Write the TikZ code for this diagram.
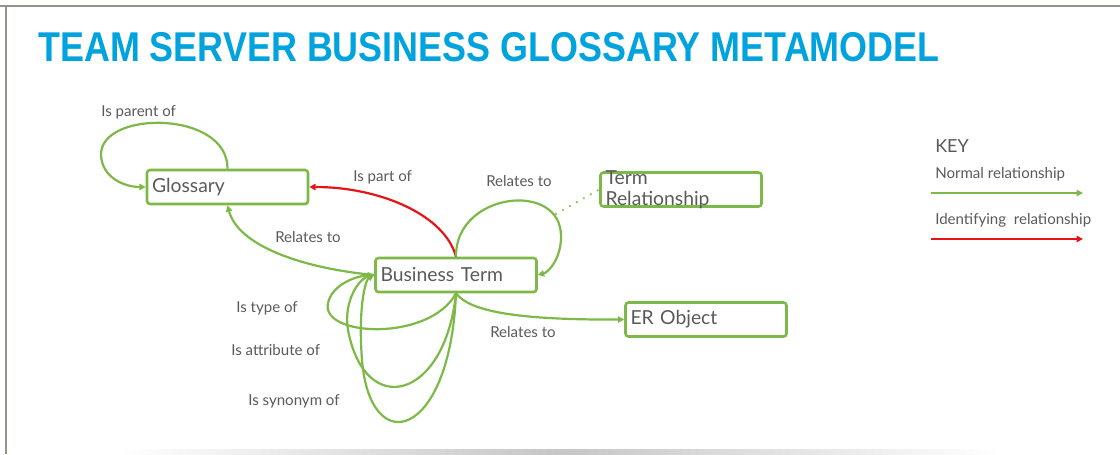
\documentclass[tikz,border=0pt]{standalone}
\usepackage{fontspec}
\setmainfont{Lato}
\newfontfamily\titlefont{Liberation Sans}
\usetikzlibrary{arrows.meta,shadows}
\definecolor{ttlblue}{RGB}{0,163,221}
\definecolor{lgreen}{RGB}{125,185,70}
\definecolor{lred}{RGB}{230,20,25}
\definecolor{txtgray}{RGB}{90,90,90}
\definecolor{framegray}{RGB}{150,146,136}
\tikzset{
  entity/.style={draw=lgreen, line width=1.9pt, rounded corners=2.25pt, fill=white,
    minimum width=120.75pt, minimum height=25.5pt, text width=113.25pt, align=left,
    inner xsep=3.75pt, font=\fontsize{14.5pt}{17pt}\selectfont, text=txtgray,
    drop shadow={shadow xshift=0.8pt, shadow yshift=-0.8pt, opacity=0.25}},
  lbl/.style={anchor=base west, inner sep=0pt, text=txtgray, font=\fontsize{11.3pt}{13pt}\selectfont},
  normal/.style={draw=lgreen, line width=1.65pt, -{Triangle[width=4.8pt,length=4.8pt]}},
  ident/.style={draw=lred, line width=1.65pt, -{Triangle[width=4.8pt,length=4.8pt]}},
  dotline/.style={draw=lgreen!85, line width=1.95pt, line cap=round, dash pattern=on 0pt off 6pt}
}
\begin{document}
\begin{tikzpicture}[x=0.75pt,y=-0.75pt]
\useasboundingbox (0,0) rectangle (1120,454);
% frame
\draw[framegray, line width=1.5pt] (0,6) -- (1120,6);
\draw[framegray, line width=0.9pt] (6,6) -- (6,454);
\shade[left color=white, right color=white, middle color=gray!45] (120,449) rectangle (1000,454);
% title
\node[anchor=south west, inner sep=0pt, text=ttlblue] (title) at (38,62)
  {\resizebox{676pt}{21.8pt}{\titlefont\bfseries TEAM SERVER BUSINESS GLOSSARY METAMODEL}};
% entities
\node[entity] (gl) at (227.5,187) {Glossary};
\node[entity] (bt) at (456,275) {Business Term};
\node[entity] (tr) at (681,189.5) {\smash{\raisebox{-3.8pt}{\parbox[c]{113.25pt}{\fontsize{14.5pt}{15.3pt}\selectfont Term\\Relationship}}}};
\node[entity] (er) at (706,319.5) {ER Object};
% coordinates
\coordinate (dotend) at (556,214);
% edges
\draw[normal] (gl.north) .. controls (228,110) and (100,110) .. (101,155)
  .. controls (102,178) and (125,187) .. (gl.west);
\draw[ident] (bt.north) .. controls (445,215) and (380,187) .. (gl.east);
\draw[normal] (bt.west) .. controls (300,268) and (238,245) .. (gl.south);
\draw[normal] (bt.north) .. controls (455,192) and (562,180) .. (561,237)
  .. controls (561,258) and (549,272) .. (bt.east);
\draw[dotline] (dotend) -- (tr.west);
\draw[normal] (bt.south) .. controls (430,342) and (320,337) .. (328,303)
  .. controls (332,285) and (355,276) .. (bt.west);
\draw[normal] (bt.south) .. controls (445,400) and (365,420) .. (348,330)
  .. controls (343,300) and (360,278) .. (bt.west);
\draw[normal] (bt.south) .. controls (450,440) and (370,460) .. (362,360)
  .. controls (358,310) and (365,280) .. (bt.west);
\draw[normal] (bt.south) .. controls (470,312) and (520,320) .. (er.west);
% labels
\node[lbl] (l1) at (101,116) {Is parent of};
\node[lbl] (l2) at (353,181) {Is part of};
\node[lbl] (l3) at (275,242) {Relates to};
\node[lbl] (l4) at (486,186) {Relates to};
\node[lbl] (l5) at (490,337) {Relates to};
\node[lbl] (l6) at (236,312) {Is type of};
\node[lbl] (l7) at (231,355) {Is attribute of};
\node[lbl] (l8) at (248,405) {Is synonym of};
% key
\node[lbl, font=\fontsize{13.5pt}{16pt}\selectfont] (key) at (935,152) {KEY};
\node[lbl] (kn) at (935,178) {Normal relationship};
\node[lbl] (ki) at (935,224) {Identifying\ \ relationship};
\coordinate (k1a) at (931,193);
\coordinate (k1b) at (1083,193);
\coordinate (k2a) at (931,239);
\coordinate (k2b) at (1083,239);
\draw[normal] (k1a) -- (k1b);
\draw[ident] (k2a) -- (k2b);
\end{tikzpicture}
\end{document}
